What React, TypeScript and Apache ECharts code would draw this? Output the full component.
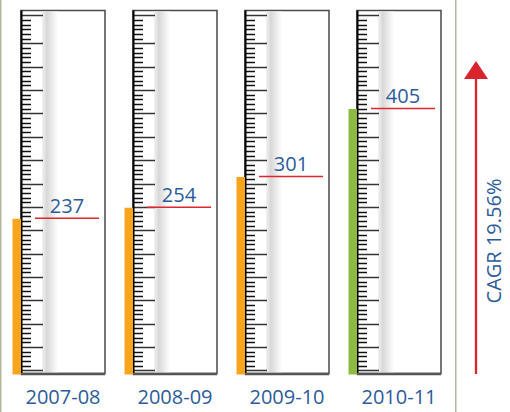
import React, { useEffect, useRef } from "react";
import * as echarts from "echarts";

const CATEGORIES = ["2007-08", "2008-09", "2009-10", "2010-11"];
const VALUES = [237, 254, 301, 405];
const BAR_COLORS = ["#f8a51b", "#f8a51b", "#f8a51b", "#8cbb3f"];
const Y_MAX = 556;
const TICK_START = 5;
const TICK_STEP = 7.15;
const TICK_COUNT = 77;
const CAGR_LABEL = "CAGR 19.56%";

const BLUE = "#2b5c9a";
const FONT = "'Open Sans', sans-serif";

export default function App() {
  const ref = useRef<HTMLDivElement>(null);
  useEffect(() => {
    if (!ref.current) return;
    const chart = echarts.init(ref.current, null, { renderer: "svg" });
    const renderItem = (params: any, api: any) => {
      const idx = api.value(0);
      const val = api.value(1);
      const [cx, y0] = api.coord([idx, 0]);
      const yTop = api.coord([idx, Y_MAX])[1];
      const yVal = api.coord([idx, val])[1];
      const left = cx - 42;
      const w = 84;
      const children: any[] = [];
      children.push({
        type: "rect",
        shape: { x: left, y: yTop, width: w, height: y0 - yTop },
        style: { fill: "#ffffff", stroke: "#4a4a4a", lineWidth: 1.5 },
      });
      children.push({
        type: "rect",
        shape: { x: left + 21, y: yTop + 1, width: 16, height: y0 - yTop - 2 },
        style: {
          fill: new echarts.graphic.LinearGradient(0, 0, 1, 0, [
            { offset: 0, color: "#f2f2f2" },
            { offset: 0.3, color: "#d8d8d8" },
            { offset: 1, color: "#ffffff" },
          ]),
        },
      });
      for (let i = 0; i < TICK_COUNT; i++) {
        const v = TICK_START + i * TICK_STEP;
        const ty = Math.round(api.coord([idx, v])[1]) + 0.5;
        const long = (i % 5 === 0 && i !== TICK_COUNT - 2) || i === TICK_COUNT - 1;
        children.push({
          type: "line",
          shape: { x1: left, y1: ty, x2: left + (long ? 22 : 10), y2: ty },
          style: { stroke: long ? "#333333" : "#111111", lineWidth: 1.5 },
        });
      }
      children.push({
        type: "line",
        shape: { x1: left + 0.5, y1: yTop, x2: left + 0.5, y2: y0 },
        style: { stroke: "#000000", lineWidth: 2 },
      });
      children.push({
        type: "line",
        shape: { x1: left, y1: y0 + 0.5, x2: left + w, y2: y0 + 0.5 },
        style: { stroke: "#555555", lineWidth: 2.5 },
      });
      children.push({
        type: "rect",
        shape: { x: left - 8.5, y: yVal, width: 8.5, height: y0 - yVal + 1 },
        style: { fill: BAR_COLORS[idx] },
      });
      children.push({
        type: "line",
        shape: { x1: left + 14, y1: yVal - 0.5, x2: left + 78, y2: yVal - 0.5 },
        style: { stroke: "#e0262e", lineWidth: 1.5 },
      });
      children.push({
        type: "text",
        x: left + 46,
        y: yVal - 13.5,
        style: {
          text: String(val),
          fill: BLUE,
          font: `20px ${FONT}`,
          align: "center",
          verticalAlign: "middle",
        },
      });
      return { type: "group", children };
    };
    chart.setOption({
      animation: false,
      grid: { left: 7, right: 55, top: 10.5, bottom: 38.5 },
      xAxis: {
        type: "category",
        data: CATEGORIES,
        axisLine: { show: false },
        axisTick: { show: false },
        axisLabel: { color: BLUE, fontSize: 20, fontFamily: "Open Sans", margin: 13 },
      },
      yAxis: {
        type: "value",
        min: 0,
        max: Y_MAX,
        axisLine: { show: false },
        axisTick: { show: false },
        axisLabel: { show: false },
        splitLine: { show: false },
      },
      series: [
        {
          type: "custom",
          renderItem,
          data: VALUES.map((v, i) => [i, v]),
          clip: false,
        },
      ],
      graphic: [
        { type: "line", shape: { x1: 0.75, y1: 0, x2: 0.75, y2: 412 }, style: { stroke: "#b8b59f", lineWidth: 1.5 } },
        { type: "line", shape: { x1: 455.75, y1: 0, x2: 455.75, y2: 412 }, style: { stroke: "#b8b59f", lineWidth: 1.5 } },
        { type: "line", shape: { x1: 476, y1: 374, x2: 476, y2: 76 }, style: { stroke: "#d9232d", lineWidth: 2.3 } },
        { type: "polygon", shape: { points: [[476, 61], [464, 79], [488, 79]] }, style: { fill: "#d9232d" } },
        {
          type: "text",
          x: 493,
          y: 241,
          rotation: Math.PI / 2,
          style: { text: CAGR_LABEL, fill: BLUE, font: `20px ${FONT}`, align: "center", verticalAlign: "middle" },
        },
      ],
    });
    return () => chart.dispose();
  }, []);
  return <div ref={ref} style={{ position: "fixed", left: 0, top: 0, width: 510, height: 412, background: "#fff" }} />;
}
